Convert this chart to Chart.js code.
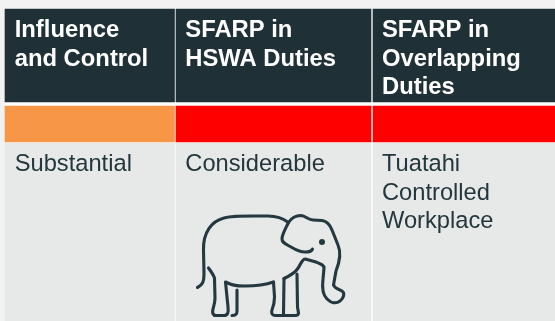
<!DOCTYPE html>
<html>
<head>
<meta charset="utf-8">
<style>
  html, body { margin: 0; padding: 0; background: #f2f2f2; }
  #wrap { position: relative; width: 555px; height: 321px; overflow: hidden; }
</style>
<script src="https://cdn.jsdelivr.net/npm/chart.js@4"></script>
</head>
<body>
<div id="wrap"><canvas id="tableChart" width="555" height="321"></canvas></div>
<script>
// table content
const headers = [
  ["Influence", "and Control"],
  ["SFARP in", "HSWA Duties"],
  ["SFARP in", "Overlapping", "Duties"]
];
const ratings = ["#f79646", "#ff0000", "#ff0000"];
const details = [
  ["Substantial"],
  ["Considerable"],
  ["Tuatahi", "Controlled", "Workplace"]
];

// grid lines of the table, in scale units
const colEdges = [[5, 174.5], [176, 371], [373, 555]];
const textStart = [14.7, 185.3, 382];
const headerRow = [9, 102];
const ratingRow = [106, 142];
const detailRow = [143, 321];
const wholeTable = [9, 321];

const DARK = "#1f3136";
const BODY = "#e7e8e8";

function rowDataset(row, colors, cols) {
  return {
    data: cols.map(c => ({ x: c, y: (row[0] + row[1]) / 2 })),
    backgroundColor: colors,
    barThickness: row[1] - row[0],
    grouped: false
  };
}

// elephant outline, traced over the icon
const iconPaths = [
  // back, head, trunk, chin
  "M197.5 287.5 C203 285 204 281 204 274 L203.5 250 C203 232 212 221 224 218 C232 215.5 240 216 268 216 C278 216 284 219 288.5 222.5 " +
  "C292 217 296 215.5 301 215.5 C306 216 308 220 313 220 L322 220.5 C327 221 330 225 332 230 L338 245 C341 252 340 261 336 271 " +
  "L333.5 285 C335 289 339 289 342 291 C345 293 344 298 340 301 C336 304 331 303 327 299 C322 294 322 287 323 279 L324 268 " +
  "C324 265 321 264 316 262 L307 259.5 C304 258 303 260 301 263 C298 269 296 273 284 278.5",
  // ear
  "M288.5 222.5 C286 228 282 234 282 239 C282 243 286 244 291 247 C296 250 301 252 305 252 C310 252 312 251 312.5 249",
  // front legs
  "M297 274 L297.5 307 L298.5 313 C298.5 315 297 315.5 295 315.5 L275 315.5 C272 315.5 271 313 272 310 C274 305 274.5 302 274.5 297 L273.5 282",
  "M284 278.5 L283.5 314",
  // belly and back legs
  "M273.5 282 C265 285 255 286 245 286 C235 286 232 285 225.5 282 L228 307 C228.5 312 228 315.5 224 315.5 L216 315.5 C213 315.5 212 313 213 309 C214 305 215 303 215 298 L214.5 278 C213 274 210 270 208.5 268",
  "M237 290 L237 311 C237 314 236 315.5 232 315.5"
];

const cellText = {
  id: "cellText",
  afterDatasetsDraw(chart) {
    const ctx = chart.ctx;
    const x = chart.scales.x;
    ctx.save();
    ctx.textBaseline = "alphabetic";

    ctx.font = "bold 23.8px 'Liberation Sans'";
    ctx.fillStyle = "#ffffff";
    headers.forEach((lines, i) => {
      lines.forEach((t, j) => ctx.fillText(t, x.getPixelForValue(textStart[i]), 37 + j * 28.5));
    });

    ctx.font = "23.7px 'Liberation Sans'";
    ctx.fillStyle = "#24373d";
    details.forEach((lines, i) => {
      lines.forEach((t, j) => ctx.fillText(t, x.getPixelForValue(textStart[i]), 171 + j * 28.5));
    });

    // elephant
    ctx.strokeStyle = "#24393f";
    ctx.fillStyle = "#24393f";
    ctx.lineWidth = 3.1;
    ctx.lineCap = "round";
    ctx.lineJoin = "round";
    iconPaths.forEach(p => ctx.stroke(new Path2D(p)));
    ctx.beginPath();
    ctx.arc(322, 242, 3, 0, Math.PI * 2);
    ctx.fill();
    ctx.restore();
  }
};

new Chart(document.getElementById("tableChart"), {
  type: "bar",
  data: {
    datasets: [
      rowDataset(headerRow, DARK, colEdges),
      rowDataset(ratingRow, ratings, colEdges),
      rowDataset(detailRow, BODY, colEdges),
      // white table backing shows through the gaps between cells
      rowDataset(wholeTable, "#ffffff", [[5, 555]])
    ]
  },
  options: {
    indexAxis: "y",
    responsive: false,
    animation: false,
    layout: { padding: 0 },
    plugins: { legend: { display: false }, tooltip: { enabled: false } },
    scales: {
      x: { type: "linear", min: 0, max: 555, display: false },
      y: { type: "linear", min: 0, max: 321, reverse: true, offset: false, display: false }
    }
  },
  plugins: [cellText]
});
</script>
</body>
</html>
